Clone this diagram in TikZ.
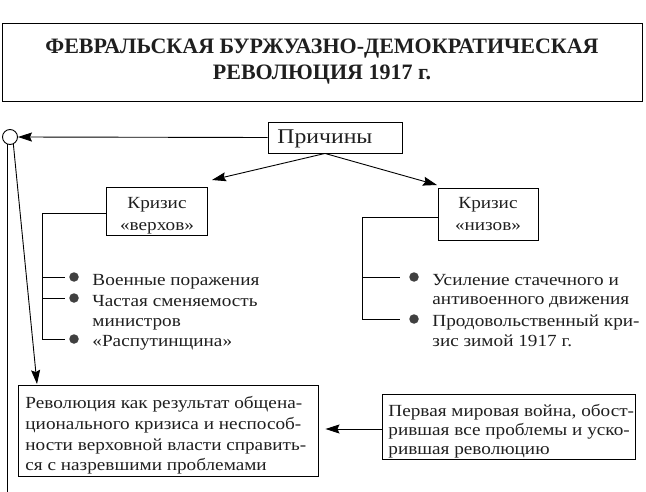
\documentclass[tikz,border=0pt]{standalone}
\usepackage{fontspec}
\setmainfont{Liberation Serif}
\newfontfamily\widefont[FakeStretch=1.13]{Liberation Serif}
\usetikzlibrary{arrows.meta,calc}
\begin{document}
\begin{tikzpicture}[x=1pt,y=-1pt,
  line width=0.9pt,
  box/.style={draw,rectangle,inner sep=0pt},
  txt/.style={anchor=base west,inner sep=0pt,text=black!88,font=\widefont\fontsize{17}{21}\selectfont},
  arr/.style={-{Stealth[length=14pt,width=9pt,inset=2pt]}},
  dot/.style={circle,fill=black!75,draw=none,minimum size=9.5pt,inner sep=0pt}
]
\useasboundingbox (0,0) rectangle (646,492);
% title
\node[box,minimum width=640pt,minimum height=78pt,align=center,text=black!88,
  font=\bfseries\fontsize{22}{26}\selectfont] (title) at (322,62)
  {ФЕВРАЛЬСКАЯ БУРЖУАЗНО-ДЕМОКРАТИЧЕСКАЯ\\РЕВОЛЮЦИЯ 1917 г.};
% causes
\node[box,minimum width=134pt,minimum height=31pt] (reasons) at (335,137.5) {};
\node[txt,font=\widefont\fontsize{21}{25}\selectfont] (reasonstxt) at (277,144) {Причины};
\node[draw,circle,minimum size=15pt,inner sep=0pt,fill=white] (circ) at (10,137) {};
\draw[arr] (reasons.west) -- (circ.east);
% crisis boxes
\node[box,minimum width=101pt,minimum height=48pt] (top) at (156.5,211) {};
\node[txt,anchor=base] (toptxt1) at (157,209) {Кризис};
\node[txt,anchor=base] (toptxt2) at (157,230) {«верхов»};
\node[box,minimum width=100pt,minimum height=52pt] (low) at (488,214) {};
\node[txt,anchor=base] (lowtxt1) at (488,209) {Кризис};
\node[txt,anchor=base] (lowtxt2) at (488,230) {«низов»};
\coordinate (rs) at ($(reasons.south)+(-10,0)$);
\coordinate (topend) at (212,180);
\coordinate (lowend) at (437,185);
\draw[arr] (rs) -- (topend);
\draw[arr] (rs) -- (lowend);
% left list
\coordinate (lc) at (42,213);
\coordinate (l1) at (65,277);
\coordinate (l2) at (65,298);
\coordinate (l3) at (65,339);
\draw (top.west |- lc) -- (lc) -- (lc |- l3) -- (l3);
\draw (lc |- l1) -- (l1);
\draw (lc |- l2) -- (l2);
\node[dot] (d1) at (74,277) {};
\node[dot] (d2) at (74,298) {};
\node[dot] (d3) at (74,339) {};
\node[txt] (t1) at (92,285) {Военные поражения};
\node[txt] (t2) at (92,306) {Частая сменяемость};
\node[txt] (t3) at (92,326) {министров};
\node[txt] (t4) at (92,346) {«Распутинщина»};
% right list
\coordinate (rc) at (362,217);
\coordinate (r1) at (400,277);
\coordinate (r2) at (400,319);
\draw (low.west |- rc) -- (rc) -- (rc |- r2) -- (r2);
\draw (rc |- r1) -- (r1);
\node[dot] (e1) at (414,277) {};
\node[dot] (e2) at (414,319) {};
\node[txt] (u1) at (432,285) {Усиление стачечного и};
\node[txt] (u2) at (432,305) {антивоенного движения};
\node[txt] (u3) at (432,326) {Продовольственный кри-};
\node[txt] (u4) at (432,346) {зис зимой 1917 г.};
% bottom boxes
\node[box,minimum width=300pt,minimum height=91pt] (result) at (168,431) {};
\node[txt] (res1) at (25,408) {Революция как результат общена-};
\node[txt] (res2) at (25,429) {ционального кризиса и неспособ-};
\node[txt] (res3) at (25,450) {ности верховной власти справить-};
\node[txt] (res4) at (25,470) {ся с назревшими проблемами};
\node[box,minimum width=253pt,minimum height=65pt] (war) at (508.5,426.5) {};
\node[txt] (war1) at (388,416) {Первая мировая война, обост-};
\node[txt] (war2) at (388,435) {рившая все проблемы и уско-};
\node[txt] (war3) at (388,454) {рившая революцию};
\draw[arr,shorten >=7pt] (war.west |- 0,429) -- (result.east |- 0,429);
% lines from circle
\coordinate (downend) at (37,384);
\coordinate (bottomend) at (7,492);
\draw[arr] (circ.-65) -- (downend);
\draw (circ.-112) -- (circ.-112 |- bottomend);
\end{tikzpicture}
\end{document}
